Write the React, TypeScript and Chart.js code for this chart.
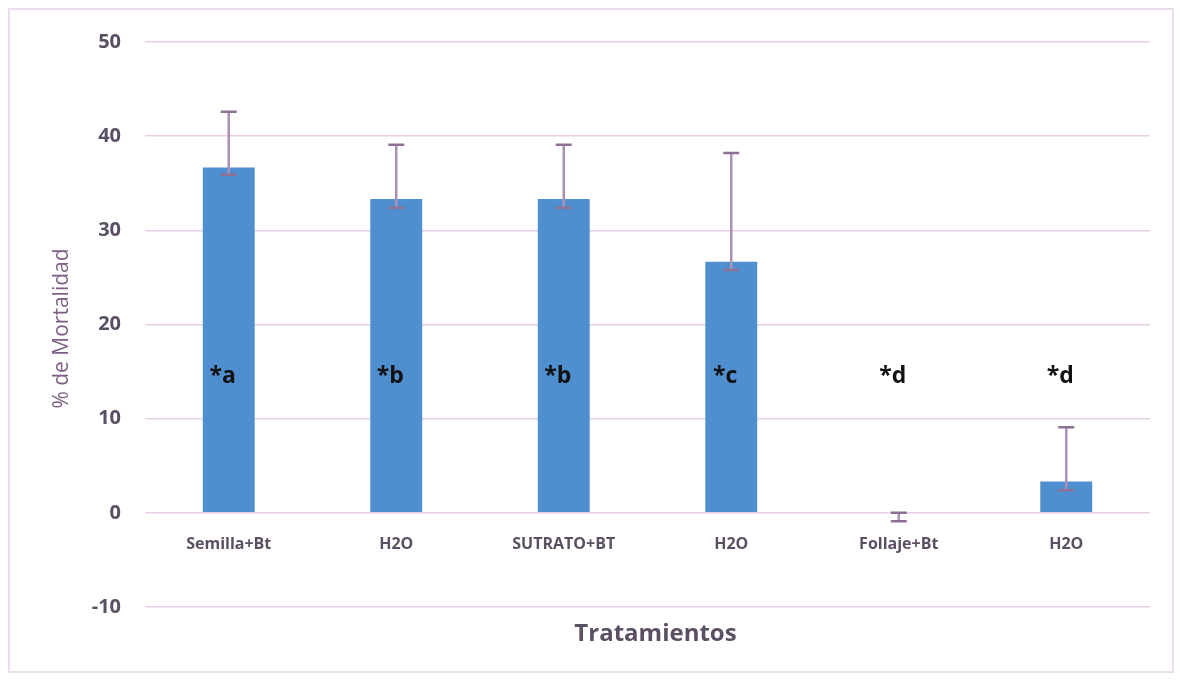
import React, { useEffect, useRef } from "react";
import { Chart, registerables } from "chart.js";

Chart.register(...registerables);

const categories = ["Semilla+Bt", "H2O", "SUTRATO+BT", "H2O", "Follaje+Bt", "H2O"];
const mortality = [36.67, 33.33, 33.33, 26.67, 0, 3.33];
const errorHigh = [42.6, 39.1, 39.1, 38.2, 0, 9.1];
const errorLow = [35.9, 32.4, 32.4, 25.8, -0.9, 2.4];
const significance = ["*a", "*b", "*b", "*c", "*d", "*d"];
const significanceLevel = 14.5;
const yMin = -10;
const yMax = 50;
const yStep = 10;
const yTitle = "% de Mortalidad";
const xTitle = "Tratamientos";

const FONT = "'Open Sans', Lato, sans-serif";
const TEXT_COLOR = "#5b5063";

const overlayPlugin = {
  id: "overlay",
  afterDatasetsDraw(chart: any) {
    const ctx = chart.ctx;
    const x = chart.scales.x;
    const y = chart.scales.y;
    const area = chart.chartArea;
    ctx.save();
    // error bars
    for (let i = 0; i < categories.length; i++) {
      const cx = x.getPixelForValue(i);
      const yh = y.getPixelForValue(errorHigh[i]);
      const yl = y.getPixelForValue(errorLow[i]);
      ctx.strokeStyle = "#ad90b6";
      ctx.lineWidth = 2.5;
      ctx.beginPath();
      ctx.moveTo(cx, yh);
      ctx.lineTo(cx, yl);
      ctx.stroke();
      ctx.strokeStyle = "#8c7194";
      ctx.lineWidth = 2.5;
      ctx.beginPath();
      ctx.moveTo(cx - 8, yh);
      ctx.lineTo(cx + 8, yh);
      ctx.moveTo(cx - 8, yl);
      ctx.lineTo(cx + 8, yl);
      ctx.stroke();
    }
    // significance letters
    ctx.fillStyle = "#111111";
    ctx.font = `bold 23px ${FONT}`;
    ctx.textAlign = "center";
    ctx.textBaseline = "middle";
    for (let i = 0; i < categories.length; i++) {
      const cx = x.getPixelForValue(i);
      ctx.fillText(significance[i], cx - 6, y.getPixelForValue(significanceLevel));
    }
    // axis titles
    ctx.fillStyle = TEXT_COLOR;
    ctx.font = `bold 24px ${FONT}`;
    ctx.fillText(xTitle, (area.left + area.right) / 2 + 8, area.bottom + 27);
    ctx.save();
    ctx.translate(52, (area.top + area.bottom) / 2 + 4);
    ctx.rotate(-Math.PI / 2);
    ctx.fillStyle = "#7d5f86";
    ctx.font = `21px ${FONT}`;
    ctx.fillText(yTitle, 0, 0);
    ctx.restore();
    ctx.restore();
  },
};

export default function App() {
  const ref = useRef<HTMLCanvasElement | null>(null);
  useEffect(() => {
    if (!ref.current) return;
    const chart = new Chart(ref.current, {
      type: "bar",
      data: {
        labels: categories,
        datasets: [
          {
            data: mortality,
            backgroundColor: "#4f8fcf",
            borderWidth: 0,
            barPercentage: 0.31,
            categoryPercentage: 1,
          },
        ],
      },
      options: {
        responsive: false,
        animation: false,
        layout: { padding: { top: 32, right: 22, bottom: 64, left: 0 } },
        plugins: {
          legend: { display: false },
          tooltip: { enabled: false },
        },
        scales: {
          x: {
            position: { y: 0 } as any,
            afterFit(scale: any) {
              scale.paddingLeft = 0;
              scale.paddingRight = 0;
              scale.paddingTop = 0;
              scale.paddingBottom = 0;
            },
            grid: { display: false, drawTicks: false },
            border: { display: false },
            ticks: {
              padding: 22,
              color: TEXT_COLOR,
              font: { family: FONT, size: 16, weight: "bold" },
              maxRotation: 0,
              autoSkip: false,
            },
          },
          y: {
            min: yMin,
            max: yMax,
            afterFit(scale: any) {
              scale.width = 135;
              scale.paddingTop = 0;
              scale.paddingBottom = 0;
            },
            grid: { color: "#e8cfe6", lineWidth: 1.5, drawTicks: false },
            border: { display: false },
            ticks: {
              stepSize: yStep,
              padding: 24,
              color: TEXT_COLOR,
              font: { family: FONT, size: 20, weight: "bold" },
            },
          },
        },
      },
      plugins: [overlayPlugin],
    });
    return () => chart.destroy();
  }, []);
  return (
    <div
      style={{
        width: 1166,
        height: 665,
        border: "2px solid #ebdcef",
        boxSizing: "border-box",
        background: "#ffffff",
      }}
    >
      <canvas ref={ref} width={1162} height={661} style={{ display: "block" }} />
    </div>
  );
}
